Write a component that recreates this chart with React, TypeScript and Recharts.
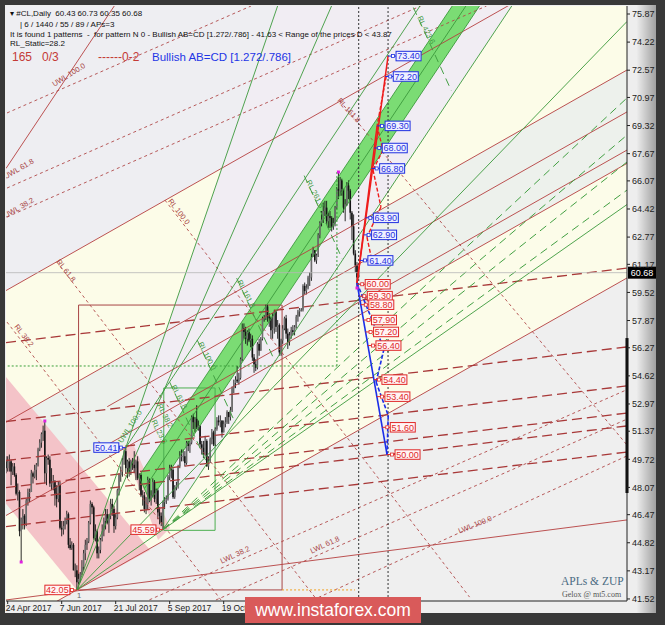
import React from "react";
import {
  ComposedChart,
  Bar,
  Area,
  Scatter,
  XAxis,
  YAxis,
  ReferenceLine,
  ReferenceArea,
} from "recharts";

// #CL daily bars, one per weekday from 24 Apr 2017: [open, high, low, close]
const ohlc = [
  [49.6, 49.9, 48.9, 49.2], [49.2, 49.9, 49.0, 49.6], [49.6, 50.0, 49.0, 49.6], [49.6, 49.7, 48.2, 49.0],
  [49.0, 49.5, 48.8, 49.3], [49.3, 49.5, 48.7, 48.8], [48.8, 48.9, 47.6, 47.7], [47.7, 48.3, 47.3, 47.8],
  [47.8, 47.9, 45.2, 45.5], [45.5, 46.3, 43.69, 46.2], [46.2, 46.8, 45.6, 46.4], [46.4, 46.5, 45.6, 45.9],
  [45.9, 47.4, 45.8, 47.3], [47.3, 48.0, 47.0, 47.8], [47.8, 48.0, 47.2, 47.8], [47.8, 49.1, 47.8, 48.9],
  [48.9, 49.0, 48.3, 48.7], [48.7, 49.4, 48.6, 49.1], [49.1, 49.5, 48.5, 49.4], [49.4, 50.4, 49.3, 50.3],
  [50.3, 50.9, 50.2, 50.7], [50.7, 51.3, 50.4, 51.2], [51.2, 51.7, 50.8, 51.4], [51.4, 51.97, 48.3, 48.9],
  [48.9, 49.9, 48.2, 49.8], [49.8, 50.0, 49.4, 49.7], [49.7, 49.9, 48.1, 48.3], [48.3, 49.2, 47.9, 48.3],
  [48.3, 48.8, 47.9, 48.4], [48.4, 48.5, 47.0, 47.7], [47.7, 48.2, 46.9, 47.4], [47.4, 48.4, 47.2, 48.2],
  [48.2, 48.4, 45.6, 45.7], [45.7, 46.1, 45.2, 45.6], [45.6, 46.1, 45.3, 45.8], [45.8, 46.3, 45.6, 46.1],
  [46.1, 46.7, 45.9, 46.5], [46.5, 46.6, 44.5, 44.7], [44.7, 45.1, 44.4, 44.5], [44.5, 44.9, 44.4, 44.7],
  [44.7, 44.8, 43.2, 43.2], [43.2, 43.6, 42.8, 43.2], [43.2, 43.5, 42.05, 42.5], [42.5, 43.0, 42.4, 42.7],
  [42.7, 43.1, 42.5, 43.0], [43.0, 43.8, 42.9, 43.4], [43.4, 44.4, 43.2, 44.2], [44.2, 45.0, 43.8, 44.7],
  [44.7, 45.1, 44.4, 44.9], [44.9, 46.1, 44.8, 46.0], [46.0, 47.3, 45.9, 47.1], [47.1, 47.2, 46.5, 46.9],
  [46.9, 47.0, 45.0, 45.1], [45.1, 45.9, 44.9, 45.5], [45.5, 45.6, 43.9, 44.2], [44.2, 44.6, 43.9, 44.4],
  [44.4, 45.1, 44.2, 45.0], [45.0, 45.9, 44.9, 45.5], [45.5, 46.3, 45.2, 46.1], [46.1, 46.8, 45.6, 46.5],
  [46.5, 46.8, 45.9, 46.0], [46.0, 46.5, 45.4, 46.4], [46.4, 47.4, 46.2, 47.1], [47.1, 47.4, 46.4, 46.8],
  [46.8, 47.0, 45.4, 45.8], [45.8, 46.5, 45.6, 46.3], [46.3, 48.0, 46.2, 47.9], [47.9, 48.9, 47.6, 48.8],
  [48.8, 49.3, 48.4, 49.0], [49.0, 49.8, 48.7, 49.7], [49.7, 50.3, 49.4, 50.2], [50.2, 50.41, 48.9, 49.2],
  [49.2, 49.7, 48.6, 49.6], [49.6, 49.8, 48.7, 49.0], [49.0, 49.7, 48.8, 49.6], [49.6, 49.8, 49.1, 49.4],
  [49.4, 50.2, 48.9, 49.2], [49.2, 49.7, 48.5, 49.6], [49.6, 49.9, 48.5, 48.6], [48.6, 48.9, 47.9, 48.8],
  [48.8, 48.9, 47.5, 47.6], [47.6, 47.9, 47.0, 47.6], [47.6, 47.8, 46.6, 46.8], [46.8, 47.5, 46.5, 47.1],
  [47.1, 48.7, 46.8, 48.5], [48.5, 48.6, 47.2, 47.4], [47.4, 47.9, 47.0, 47.6], [47.6, 48.6, 47.5, 48.4],
  [48.4, 48.5, 47.2, 47.4], [47.4, 48.0, 47.1, 47.9], [47.9, 48.0, 46.2, 46.6], [46.6, 46.9, 45.9, 46.4],
  [46.4, 46.6, 45.8, 46.0], [46.0, 47.3, 45.59, 47.2], [47.2, 47.5, 46.8, 47.3], [47.3, 47.6, 47.1, 47.4],
  [47.4, 48.8, 47.3, 48.7], [48.7, 49.4, 48.5, 49.2], [49.2, 49.4, 48.6, 49.1], [49.1, 49.2, 47.4, 47.5],
  [47.5, 48.2, 47.4, 48.1], [48.1, 48.4, 47.9, 48.2], [48.2, 49.4, 48.0, 49.3], [49.3, 50.2, 49.2, 49.9],
  [49.9, 50.3, 49.6, 49.9], [49.9, 50.3, 49.6, 49.9], [49.9, 50.2, 49.3, 49.5], [49.5, 50.8, 49.4, 50.7],
  [50.7, 50.8, 50.2, 50.5], [50.5, 50.8, 50.1, 50.7], [50.7, 52.3, 50.6, 52.2], [52.2, 52.4, 51.5, 51.9],
  [51.9, 52.2, 51.3, 52.1], [52.1, 52.9, 51.5, 51.6], [51.6, 52.0, 51.4, 51.7], [51.7, 51.7, 50.4, 50.6],
  [50.6, 50.8, 50.0, 50.4], [50.4, 50.8, 49.8, 50.0], [50.0, 51.1, 49.9, 50.8], [50.8, 50.9, 49.3, 49.3],
  [49.3, 49.9, 49.1, 49.6], [49.6, 51.0, 49.5, 50.9], [50.9, 51.5, 50.6, 51.3], [51.3, 51.4, 50.5, 50.6],
  [50.6, 51.6, 50.5, 51.5], [51.5, 52.2, 51.4, 52.0], [52.0, 52.3, 51.7, 51.9], [51.9, 52.3, 51.6, 52.0],
  [52.0, 52.0, 51.0, 51.3], [51.3, 52.0, 51.3, 51.8], [51.8, 52.2, 51.6, 51.9], [51.9, 52.6, 51.8, 52.5],
  [52.5, 52.5, 51.8, 52.2], [52.2, 52.8, 52.0, 52.6], [52.6, 54.0, 52.5, 53.9], [53.9, 54.4, 53.6, 54.2],
  [54.2, 54.6, 53.9, 54.4], [54.4, 55.2, 54.2, 54.3], [54.3, 54.8, 54.1, 54.5], [54.5, 55.7, 54.4, 55.6],
  [55.6, 57.7, 55.5, 57.4], [57.4, 57.7, 56.8, 57.2], [57.2, 57.5, 56.5, 56.8], [56.8, 57.3, 56.4, 57.2],
  [57.2, 57.4, 56.6, 56.7], [56.7, 57.1, 56.3, 56.8], [56.8, 57.0, 55.5, 55.7], [55.7, 55.9, 54.8, 55.3],
  [55.3, 55.6, 54.9, 55.1], [55.1, 56.6, 55.0, 56.5], [56.5, 56.8, 55.8, 56.1], [56.1, 56.9, 56.1, 56.8],
  [56.8, 58.1, 56.7, 58.0], [58.0, 58.2, 57.8, 58.0], [58.0, 58.8, 57.9, 58.7], [58.7, 58.8, 57.8, 58.1],
  [58.1, 58.3, 57.5, 58.0], [58.0, 58.1, 56.8, 57.3], [57.3, 58.3, 56.8, 57.4], [57.4, 58.5, 57.1, 58.4],
  [58.4, 58.4, 57.2, 57.5], [57.5, 57.9, 56.8, 57.6], [57.6, 57.7, 55.8, 56.0], [56.0, 56.8, 55.8, 56.7],
  [56.7, 57.6, 56.5, 57.4], [57.4, 58.1, 57.3, 58.0], [58.0, 58.2, 56.8, 57.1], [57.1, 57.4, 56.2, 56.6],
  [56.6, 57.2, 56.4, 57.0], [57.0, 57.5, 56.8, 57.3], [57.3, 57.6, 57.0, 57.2], [57.2, 57.6, 57.0, 57.5],
  [57.5, 58.2, 57.4, 58.1], [58.1, 58.5, 57.8, 58.4], [58.4, 58.6, 58.1, 58.5], [58.5, 58.6, 58.4, 58.5],
  [58.5, 60.0, 58.4, 59.9], [59.9, 60.1, 59.4, 59.6], [59.6, 60.0, 59.4, 59.8], [59.8, 60.5, 59.7, 60.4],
  [60.4, 60.7, 59.9, 60.4], [60.4, 61.8, 60.2, 61.6], [61.6, 62.2, 61.6, 62.0], [62.0, 62.0, 61.3, 61.4],
  [61.4, 61.8, 61.2, 61.7], [61.7, 63.0, 61.6, 62.9], [62.9, 63.7, 62.7, 63.6], [63.6, 64.3, 63.4, 63.8],
  [63.8, 64.8, 63.6, 64.3], [64.3, 64.9, 64.0, 64.5], [64.5, 64.9, 63.5, 63.7], [63.7, 64.2, 63.3, 64.0],
  [64.0, 64.3, 63.3, 63.9], [63.9, 64.0, 63.1, 63.4], [63.4, 63.9, 63.2, 63.6], [63.6, 64.6, 63.4, 64.5],
  [64.5, 65.7, 64.4, 65.6], [65.6, 66.59, 65.0, 65.5], [65.5, 66.3, 65.2, 66.1], [66.1, 66.2, 65.2, 65.6],
  [65.6, 65.6, 64.2, 64.5], [64.5, 65.0, 63.7, 64.7], [64.7, 66.0, 64.6, 65.8], [65.8, 66.1, 65.0, 65.5],
  [65.5, 65.6, 63.8, 64.2], [64.2, 64.3, 62.6, 63.4], [63.4, 64.1, 61.7, 61.8], [61.8, 62.0, 60.7, 61.1],
  [61.1, 61.3, 59.78, 60.4], [60.43, 60.73, 60.35, 60.68],
];

const xTicks = [1, 33, 65, 97, 129];
const xTickLabels = ["24 Apr 2017", "7 Jun 2017", "21 Jul 2017", "5 Sep 2017", "19 Oct 2017"];
const yTicks = [75.87, 74.22, 72.57, 70.97, 69.32, 67.67, 66.07, 64.42, 62.77, 61.17, 59.52, 57.87, 56.27, 54.62, 52.97, 51.37, 49.72, 48.07, 46.47, 44.82, 43.17, 41.52];
const lastPrice = 60.68;

// ZUP pivots (bar, price)
const pivots = [{ i: 9, p: 43.69 }, { i: 23, p: 51.97 }, { i: 197, p: 66.59 }, { i: 208, p: 59.78 }];

// shaded zones: [low, high] per bar
const zoneUpper = [{ i: 0, r: [59.63, 90] }, { i: 368, r: [80.31, 90] }];
const zoneCream1 = [{ i: 0, r: [51.9, 59.63] }, { i: 368, r: [72.58, 80.31] }];
const zoneMint = [{ i: 0, r: [46.42, 51.9] }, { i: 368, r: [67.1, 72.58] }];
const zoneCream2 = [{ i: 0, r: [39.69, 46.42] }, { i: 368, r: [60.37, 67.1] }];
const zoneLower = [{ i: 0, r: [30, 39.69] }, { i: 368, r: [30, 60.37] }];
const zoneFork = [{ i: 71, r: [50.41, 50.41] }, { i: 93, r: [45.59, 56.75] }, { i: 161, r: [55.71, 76.4] }, { i: 368, r: [86.5, 95] }];
const zonePink1 = [{ i: 0, r: [47.11, 54.56] }, { i: 42, r: [42.05, 49.56] }, { i: 85.3, r: [44.4, 44.4] }];
const zonePink2 = [{ i: 69.9, r: [50.44, 50.44] }, { i: 75.3, r: [48.99, 50.62] }, { i: 90.1, r: [44.98, 47.28] }, { i: 97.2, r: [45.69, 45.69] }];
const zoneBand = [{ i: 78.7, r: [48.72, 48.72] }, { i: 85.3, r: [47.28, 49.7] }, { i: 300, r: [79.23, 81.63] }];

// straight lines: [bar1, price1, bar2, price2]
const maroonSolid = [
  [0, 59.63, 368, 80.31],
  [0, 66.8, 70, 77.21],
  [0, 39.69, 368, 60.37],
  [0, 46.42, 368, 67.1],
  [0, 51.9, 368, 72.58],
  [60, 52.81, 368, 70.12],
  [60, 50.57, 368, 67.88],
  [0, 41.46, 368, 46.16],
];
const maroonDashed = [
  [0, 56.57, 368, 60.95],
  [0, 51.94, 368, 56.32],
  [0, 49.65, 368, 54.03],
  [0, 48.06, 368, 52.44],
  [0, 47.3, 368, 51.68],
  [0, 45.77, 368, 50.15],
];
const maroonDotted = [
  [0.6, 70.06, 145.2, 76.34],
  [0.6, 65.65, 245.7, 76.34],
  [0.6, 63.95, 284.7, 76.34],
  [85, 41.47, 368, 53.81],
  [124.4, 41.46, 368, 52.08],
  [181.9, 41.46, 368, 49.92],
  [94.2, 64.94, 274.7, 41.63],
  [30.2, 61.3, 184.3, 41.46],
  [0.6, 57.78, 127.4, 41.46],
  [197.9, 70.76, 368, 50.56],
];
const greenSolid = [
  [71, 50.41, 368, 94.59],
  [93, 45.59, 368, 86.5],
  [42, 42.05, 170, 78.95],
  [42, 42.05, 368, 64.68],
  [42, 42.05, 200, 77.95],
  [42, 42.05, 368, 75.43],
  [78.7, 48.72, 300, 81.63],
  [85.3, 47.28, 300, 79.23],
  [82, 48.0, 300, 80.43],
  [78.7, 48.72, 85.3, 47.28],
];
const greenDashed = [
  [93, 45.59, 368, 70.94],
  [93, 45.59, 368, 68.76],
  [93, 45.59, 368, 67.18],
  [93, 45.59, 368, 65.53],
  [113.3, 56.73, 135.9, 51.85],
  [136.7, 60.36, 159.3, 55.49],
  [176.7, 66.38, 199.2, 61.5],
  [241.4, 76.25, 263.9, 71.37],
  [97.0, 54.25, 119.6, 49.39],
];

// AB=CD projection
const pointD = [208, 60.07];
const redUpper = [226.4, 73.4];
const redLower = [219.9, 69.3];
const blueEnd = [225.8, 50.0];
const redZigzag = [[225.3, 72.2], [219.9, 69.3], [223.4, 67.88], [217.5, 66.71], [222.2, 64.54], [213.9, 62.77], [216.9, 61.37]];
const blueZigzag = [[208, 60.07], [224.0, 56.2], [219.3, 54.26], [226.5, 52.3], [225.8, 50.0]];
const blueTags = [
  { p: 73.4, on: "upper" }, { p: 72.2, on: "upper" }, { p: 69.3, on: "lower" }, { p: 68.0, on: "lower" },
  { p: 66.8, on: "lower" }, { p: 63.9, on: "lower" }, { p: 62.9, on: "upper" }, { p: 61.4, on: "lower" },
];
const redTags = [60.0, 59.3, 58.8, 57.9, 57.2, 56.4, 54.4, 53.4, 51.6, 50.0];
const leftTags = [
  { i: 71, p: 50.41, kind: "blue" },
  { i: 93, p: 45.59, kind: "red" },
  { i: 42, p: 42.05, kind: "red" },
];

const lineLabels = [
  { i: 37.9, p: 72.17, text: "UWL 100.0", a: -32, c: "#a84444" },
  { i: 8.3, p: 66.65, text: "UWL 61.8", a: -30, c: "#a84444" },
  { i: 8.3, p: 64.36, text: "UWL 38.2", a: -30, c: "#a84444" },
  { i: 101.3, p: 64.18, text: "RL 100.0", a: 52, c: "#a84444" },
  { i: 34.4, p: 60.72, text: "RL 61.8", a: 52, c: "#a84444" },
  { i: 9.5, p: 56.9, text: "RL 38.2", a: 52, c: "#a84444" },
  { i: 202.1, p: 70.12, text: "RL 161.8", a: 48, c: "#a84444" },
  { i: 141.0, p: 59.37, text: "RL 161.8", a: 63, c: "#3f9a3f" },
  { i: 117.9, p: 55.73, text: "RL 100.0", a: 63, c: "#3f9a3f" },
  { i: 181.9, p: 65.24, text: "RL 261.8", a: 63, c: "#3f9a3f" },
  { i: 247.7, p: 74.87, text: "RL 423.6", a: 63, c: "#3f9a3f" },
  { i: 101.3, p: 53.32, text: "RL 61.8", a: 63, c: "#3f9a3f" },
  { i: 93.0, p: 52.21, text: "RL 38.2", a: 63, c: "#3f9a3f" },
  { i: 89.5, p: 51.27, text: "RL 23.6", a: 63, c: "#3f9a3f" },
  { i: 74.7, p: 51.56, text: "UWL 100.0", a: -57, c: "#3f9a3f" },
  { i: 136.3, p: 43.98, text: "LWL 38.2", a: -25, c: "#a84444" },
  { i: 189.6, p: 44.57, text: "LWL 61.8", a: -25, c: "#a84444" },
  { i: 278.5, p: 45.75, text: "LWL 100.0", a: -22, c: "#a84444" },
  { i: 43.3, p: 41.6, text: "1", a: 0, c: "#666" },
];

const candles = ohlc.map(([o, h, l, c], i) => ({ i, o, h, l, c }));

const onLine = (from: number[], to: number[], p: number) =>
  from[0] + ((p - from[1]) / (to[1] - from[1])) * (to[0] - from[0]);

const tagData = [
  ...blueTags.map((t) => ({
    i: onLine(pointD, t.on === "upper" ? redUpper : redLower, t.p),
    p: t.p,
    kind: "blue",
    side: "right",
  })),
  ...redTags.map((p) => ({ i: onLine(pointD, blueEnd, p), p, kind: "red", side: "right" })),
  ...leftTags.map((t) => ({ ...t, side: "left" })),
];

const FONT = "'Liberation Sans', Arial, sans-serif";

const Candle = (props: any) => {
  const { x, y, width, height, payload } = props;
  if (!payload) return null;
  const { o, h, l, c } = payload;
  const top = Math.min(y, y + height);
  const bot = Math.max(y, y + height);
  const span = h - l || 1;
  const py = (v: number) => top + ((h - v) / span) * (bot - top);
  const cx = x + width / 2;
  const yo = py(o);
  const yc = py(c);
  return (
    <g>
      <line x1={cx} x2={cx} y1={top} y2={bot} stroke="#141414" strokeWidth={0.9} />
      <rect
        x={cx - 0.8}
        y={Math.min(yo, yc)}
        width={1.6}
        height={Math.max(Math.abs(yo - yc), 0.8)}
        fill={c >= o ? "#6e6e6e" : "#141414"}
      />
    </g>
  );
};

const PriceTag = (props: any) => {
  const { cx, cy, payload } = props;
  const blue = payload.kind === "blue";
  const col = blue ? "#1f2fe0" : "#e02828";
  const bg = blue ? "#eef0ff" : "#fff4f4";
  const w = 25;
  const h = 9.5;
  const left = payload.side === "left";
  const bx = left ? cx - 7 - w : cx + 8;
  const mx = left ? cx - 5 : cx + 5;
  return (
    <g>
      <line x1={cx} y1={cy} x2={left ? bx + w : bx} y2={cy} stroke={col} strokeWidth={1} />
      <rect x={mx - 1.5} y={cy - 1.5} width={3} height={3} fill="#fff" stroke={col} strokeWidth={0.8} />
      <rect x={bx} y={cy - h / 2} width={w} height={h} fill={bg} stroke={col} strokeWidth={1} />
      <text x={bx + w / 2} y={cy + 3.2} textAnchor="middle" fontSize={9} fill={col} fontFamily={FONT}>
        {payload.p.toFixed(2)}
      </text>
    </g>
  );
};

const LineLabel = (props: any) => {
  const { cx, cy, payload } = props;
  return (
    <text
      x={cx}
      y={cy}
      transform={`rotate(${payload.a} ${cx} ${cy})`}
      textAnchor="middle"
      fontSize={7.5}
      fill={payload.c}
      fontFamily={FONT}
    >
      {payload.text}
    </text>
  );
};

const PivotDot = (props: any) => (
  <rect x={props.cx - 1.5} y={props.cy - 1.5} width={3} height={3} fill="#e020e0" />
);

const XTick = (props: any) => {
  const { x, y, payload } = props;
  const k = xTicks.indexOf(payload.value);
  return (
    <text x={x - 2} y={y + 5} textAnchor="start" fontSize={8.5} fill="#222" fontFamily={FONT}>
      {xTickLabels[k]}
    </text>
  );
};

const PriceFlag = (props: any) => {
  const vb = props.viewBox || {};
  const x = (vb.x || 0) + (vb.width || 0);
  const y = vb.y || 0;
  return (
    <g>
      <rect x={x + 1} y={y - 6} width={28} height={12} fill="#000" />
      <text x={x + 15} y={y + 3.3} textAnchor="middle" fontSize={9} fill="#fff" fontFamily={FONT}>
        {lastPrice.toFixed(2)}
      </text>
    </g>
  );
};

const seg = (s: number[]) => [
  { x: s[0], y: s[1] },
  { x: s[2], y: s[3] },
];

const polySegs = (pts: number[][]) => pts.slice(1).map((p, k) => [pts[k][0], pts[k][1], p[0], p[1]]);

export default function App() {
  const zone = (data: any[], fill: string, key: string) => (
    <Area
      key={key}
      data={data}
      dataKey="r"
      type="linear"
      stroke="none"
      fill={fill}
      fillOpacity={1}
      isAnimationActive={false}
      dot={false}
      activeDot={false}
    />
  );

  return (
    <div style={{ position: "absolute", left: 0, top: 0, width: 665, height: 625, background: "#383838" }}>
      <div
        style={{
          position: "absolute",
          left: 5,
          top: 5,
          width: 651,
          height: 608,
          background: "linear-gradient(to right, #eeeeee 0%, #eeeeee 97%, #a0a0a0 100%)",
        }}
      />
      <div style={{ position: "absolute", left: 0, top: 0 }}>
        <ComposedChart width={665} height={625} data={candles} margin={{ top: 6, right: 0, bottom: 0, left: 6 }}>
          <XAxis
            type="number"
            dataKey="i"
            domain={[0, 368]}
            allowDataOverflow
            ticks={xTicks}
            interval={0}
            height={24}
            tickSize={3}
            tick={<XTick />}
            axisLine={{ stroke: "#222" }}
            tickLine={{ stroke: "#222" }}
          />
          <YAxis
            type="number"
            orientation="right"
            domain={[41.4, 76.34]}
            allowDataOverflow
            ticks={yTicks}
            interval={0}
            width={38}
            tickSize={3}
            tickMargin={2}
            tickFormatter={(v: number) => v.toFixed(2)}
            tick={{ fontSize: 9, fill: "#222", fontFamily: FONT }}
            axisLine={{ stroke: "#222" }}
            tickLine={{ stroke: "#222" }}
          />

          {zone(zoneUpper, "#eeeef2", "z1")}
          {zone(zoneCream1, "#fcfce8", "z2")}
          {zone(zoneMint, "#edf1ec", "z3")}
          {zone(zoneCream2, "#fcfce9", "z4")}
          {zone(zoneLower, "#efefef", "z5")}
          {zone(zoneFork, "#f1edf3", "z6")}
          {zone(zonePink1, "#f4c3c8", "z7")}
          {zone(zonePink2, "#f4c9cd", "z8")}
          {zone(zoneBand, "#7bdc74", "z9")}

          <ReferenceArea x1={43} x2={163.6} y1={42.05} y2={58.78} fill="none" fillOpacity={0} stroke="#a84545" strokeWidth={1} ifOverflow="hidden" />
          <ReferenceArea x1={93.5} x2={123.9} y1={45.55} y2={53.91} fill="none" fillOpacity={0} stroke="#4caf50" strokeWidth={1} ifOverflow="hidden" />

          {maroonSolid.map((s, k) => (
            <ReferenceLine key={`ms${k}`} segment={seg(s)} stroke="#b5403f" strokeWidth={0.9} ifOverflow="hidden" />
          ))}
          {maroonDashed.map((s, k) => (
            <ReferenceLine key={`md${k}`} segment={seg(s)} stroke="#a83838" strokeWidth={1.3} strokeDasharray="10 5" ifOverflow="hidden" />
          ))}
          {maroonDotted.map((s, k) => (
            <ReferenceLine key={`mt${k}`} segment={seg(s)} stroke="#b04848" strokeWidth={0.9} strokeDasharray="3 3" ifOverflow="hidden" />
          ))}
          {greenSolid.map((s, k) => (
            <ReferenceLine key={`gs${k}`} segment={seg(s)} stroke="#3c9a3c" strokeWidth={0.9} ifOverflow="hidden" />
          ))}
          {greenDashed.map((s, k) => (
            <ReferenceLine key={`gd${k}`} segment={seg(s)} stroke="#43a043" strokeWidth={1} strokeDasharray="8 5" ifOverflow="hidden" />
          ))}

          <ReferenceLine segment={[{ x: 1, y: 55.2 }, { x: 196.1, y: 55.2 }]} stroke="#3aa03a" strokeDasharray="2 2" ifOverflow="hidden" />
          <ReferenceLine segment={[{ x: 196.1, y: 55.2 }, { x: 196.1, y: 66.59 }]} stroke="#3aa03a" strokeDasharray="2 2" ifOverflow="hidden" />
          <ReferenceLine segment={[{ x: 163.6, y: 42.05 }, { x: 206.8, y: 42.05 }]} stroke="#f0a020" strokeDasharray="2 2" ifOverflow="hidden" />
          <ReferenceLine x={209} stroke="#333" strokeDasharray="2 2" ifOverflow="hidden" />
          <ReferenceLine x={226.4} stroke="#333" strokeDasharray="2 2" ifOverflow="hidden" />
          <ReferenceLine y={lastPrice} stroke="#b8b8b8" strokeWidth={0.8} label={<PriceFlag />} />
          <ReferenceLine segment={[{ x: 368, y: 56.84 }, { x: 368, y: 47.74 }]} stroke="#000" strokeWidth={3} ifOverflow="visible" />

          <Bar dataKey={(d: any) => [d.l, d.h]} barSize={2} shape={<Candle />} isAnimationActive={false} />

          <ReferenceLine segment={seg([...pointD, ...redUpper])} stroke="#ee1c1c" strokeWidth={1.5} ifOverflow="hidden" />
          <ReferenceLine segment={seg([...pointD, ...redLower])} stroke="#ee1c1c" strokeWidth={1.5} ifOverflow="hidden" />
          {polySegs(redZigzag).map((s, k) => (
            <ReferenceLine key={`rz${k}`} segment={seg(s)} stroke="#ee1c1c" strokeWidth={1.4} strokeDasharray="4 2" ifOverflow="hidden" />
          ))}
          <ReferenceLine segment={seg([...pointD, ...blueEnd])} stroke="#1b2ee8" strokeWidth={1.6} ifOverflow="hidden" />
          {polySegs(blueZigzag).map((s, k) => (
            <ReferenceLine key={`bz${k}`} segment={seg(s)} stroke="#1b2ee8" strokeWidth={1.6} strokeDasharray="4 2" ifOverflow="hidden" />
          ))}

          <Scatter data={lineLabels} dataKey="p" shape={<LineLabel />} isAnimationActive={false} />
          <Scatter data={pivots} dataKey="p" shape={<PivotDot />} isAnimationActive={false} />
          <Scatter data={tagData} dataKey="p" shape={<PriceTag />} isAnimationActive={false} />
        </ComposedChart>
      </div>

      <div style={{ position: "absolute", left: 10, top: 9, fontFamily: FONT, fontSize: 8, color: "#111", whiteSpace: "pre", lineHeight: "10px" }}>
        {"▾ #CL,Daily  60.43 60.73 60.35 60.68"}
      </div>
      <div style={{ position: "absolute", left: 20, top: 20, fontFamily: FONT, fontSize: 8, color: "#111", whiteSpace: "pre", lineHeight: "10px" }}>
        {"| 6 / 1440 / 55 / 89 / APs=3"}
      </div>
      <div style={{ position: "absolute", left: 10, top: 30, fontFamily: FONT, fontSize: 8, color: "#111", whiteSpace: "pre", lineHeight: "10px" }}>
        {"It is found 1 patterns  -  for pattern N 0 - Bullish AB=CD [1.272/.786] - 41.63 < Range of the prices D < 43.87"}
      </div>
      <div style={{ position: "absolute", left: 10, top: 39, fontFamily: FONT, fontSize: 8, color: "#111", whiteSpace: "pre", lineHeight: "10px" }}>
        {"RL_Static=28.2"}
      </div>
      <div style={{ position: "absolute", left: 12, top: 50, fontFamily: FONT, fontSize: 12, color: "#c43a36", whiteSpace: "pre", lineHeight: "14px" }}>
        {"165"}
      </div>
      <div style={{ position: "absolute", left: 42, top: 50, fontFamily: FONT, fontSize: 12, color: "#c43a36", whiteSpace: "pre", lineHeight: "14px" }}>
        {"0/3"}
      </div>
      <div style={{ position: "absolute", left: 98, top: 50, fontFamily: FONT, fontSize: 12, color: "#c43a36", whiteSpace: "pre", lineHeight: "14px" }}>
        {"------0-2"}
      </div>
      <div style={{ position: "absolute", left: 152, top: 50, fontFamily: FONT, fontSize: 11.5, color: "#1e36e6", whiteSpace: "pre", lineHeight: "14px" }}>
        {"Bullish AB=CD [1.272/.786]"}
      </div>

      <div style={{ position: "absolute", left: 561, top: 575, fontFamily: "'Liberation Serif', serif", fontSize: 11.5, color: "#4a6b82", whiteSpace: "pre" }}>
        {"APLs & ZUP"}
      </div>
      <div style={{ position: "absolute", left: 562, top: 590, fontFamily: "'Liberation Serif', serif", fontSize: 8, color: "#555", whiteSpace: "pre" }}>
        {"Gelox @ mt5.com"}
      </div>

      <div
        style={{
          position: "absolute",
          left: 245,
          top: 597,
          width: 176,
          height: 26,
          background: "#d95a5a",
          color: "#fff",
          fontFamily: FONT,
          fontSize: 17.5,
          display: "flex",
          alignItems: "center",
          justifyContent: "center",
        }}
      >
        www.instaforex.com
      </div>
    </div>
  );
}
